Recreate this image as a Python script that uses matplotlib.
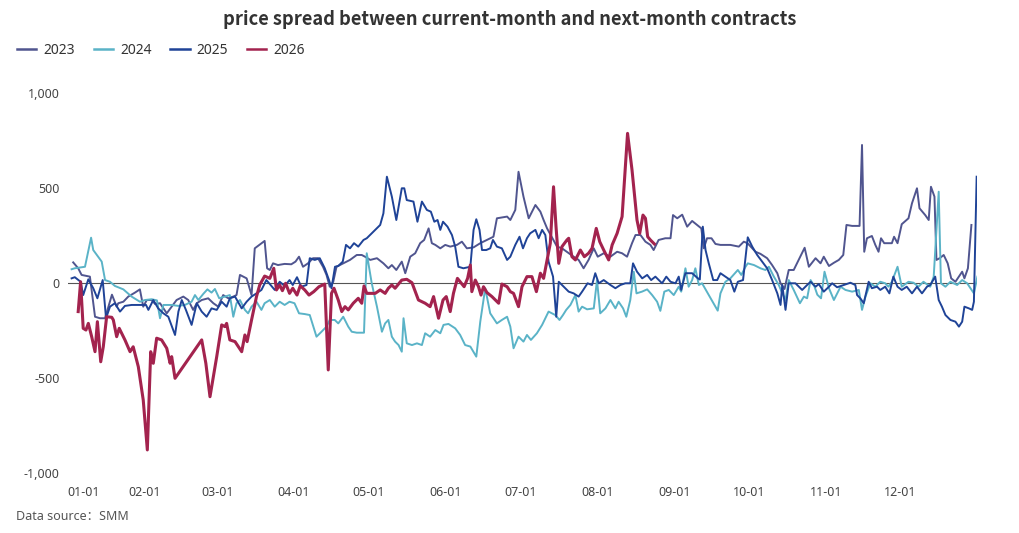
import numpy as np
import matplotlib.pyplot as plt
from matplotlib.ticker import FuncFormatter

# x values are day of year (0 = 01-01), negative = last days of December
s2023 = [(-5.4, 110), (-2.9, 79), (-1.2, 44), (3.0, 35), (5.6, -176), (8.1, -184), (10.7, -184),
         (14.2, -60), (16.6, -123), (17.4, -105), (20.0, -97), (22.5, -70), (25.9, -49), (28.4, -32),
         (30.1, -123), (31.7, -88), (33.6, -88), (34.9, -109), (36.8, -105), (39.4, -158), (41.3, -123),
         (43.2, -88), (45.8, -70), (47.7, -88), (49.6, -140), (51.0, -105), (52.9, -88), (55.4, -79),
         (57.4, -105), (59.3, -123), (61.3, -62), (63.4, -79), (65.4, -70), (66.7, -62), (68.1, 44),
         (70.8, 26), (72.8, -62), (74.1, 184), (78.1, 223), (79.1, 79), (80.2, 70), (81.5, 105),
         (83.5, 96), (86.2, 102), (88.9, 100), (90.6, 114), (92.0, 140), (93.6, 87), (95.6, 105),
         (97.6, 132), (99.6, 132), (101.6, 87), (103.0, 44), (104.3, -18), (105.7, 8), (107.0, 87),
         (109.7, 105), (112.4, 123), (115.1, 149), (117.1, 149), (118.4, 140), (120.5, 123), (123.2, 132),
         (125.8, 105), (127.8, 79), (129.2, 96), (131.0, 70), (133.2, 114), (134.6, 53), (136.6, 140),
         (138.6, 158), (140.6, 211), (142.2, 228), (144.0, 289), (145.3, 211), (146.7, 202), (148.7, 184),
         (150.7, 202), (152.7, 193), (155.4, 202), (157.4, 219), (159.4, 184), (162.1, 189), (164.8, 211),
         (167.5, 228), (170.1, 245), (171.5, 342), (175.6, 351), (176.9, 333), (178.9, 386), (180.2, 587),
         (182.2, 456), (184.3, 342), (187.0, 412), (189.0, 377), (190.3, 333), (191.7, 289), (195.7, 193),
         (197.7, 184), (202.4, 140), (204.4, 123), (206.4, 79), (208.4, 123), (210.5, 184), (212.1, 140),
         (214.5, 158), (217.2, 140), (219.9, 166), (221.9, 158), (223.9, 140), (225.9, 211), (227.3, 254),
         (229.3, 254), (231.3, 219), (233.3, 202), (234.6, 175), (236.6, 228), (239.3, 237), (241.4, 237),
         (242.4, 359), (244.1, 342), (246.1, 361), (248.1, 298), (250.1, 328), (252.1, 307), (253.8, 289),
         (254.8, 184), (256.1, 237), (257.9, 237), (259.5, 207), (261.5, 202), (265.5, 202), (268.9, 193),
         (270.9, 219), (272.4, 211), (274.3, 184), (275.6, 166), (277.6, 155), (280.3, 132), (282.3, 96),
         (284.4, 53), (285.7, 0), (287.3, -30), (289.0, 70), (291.0, 70), (293.0, 123), (295.4, 187),
         (297.1, 87), (299.8, 132), (301.8, 105), (303.1, 140), (305.2, 91), (307.2, 108), (309.2, 123),
         (311.0, 149), (312.3, 307), (314.6, 302), (317.6, 302), (318.6, 728), (319.5, 166), (320.6, 237),
         (322.6, 249), (324.0, 202), (325.3, 166), (326.3, 237), (327.6, 211), (330.7, 211), (331.6, 245),
         (333.0, 211), (334.7, 311), (337.4, 342), (338.8, 421), (340.8, 500), (341.8, 395), (344.1, 359),
         (345.5, 333), (346.4, 508), (347.8, 456), (348.6, 123), (349.9, 132), (351.5, 149), (353.1, 105),
         (354.5, 26), (356.2, 8), (357.6, 35), (358.9, 61), (359.8, 26), (361.2, 79), (362.6, 307)]

s2024 = [(-6.2, 74), (-4.6, 79), (0.5, 87), (3.6, 240), (4.7, 175), (9.0, 114), (10.7, 17), (13.2, 8),
         (15.7, -14), (20.0, -32), (24.2, -70), (28.4, -97), (31.0, -88), (33.6, -84), (35.6, -90),
         (36.8, -184), (38.1, -114), (41.3, -114), (43.9, -119), (46.4, -114), (49.0, -97), (50.3, -62),
         (51.6, -88), (53.5, -56), (55.1, -32), (56.7, -49), (58.0, -30), (59.7, -79), (62.0, -70),
         (64.0, -62), (65.4, -176), (66.7, -105), (68.1, -88), (70.1, -140), (71.4, -158), (72.8, -123),
         (74.8, -97), (76.8, -140), (78.1, -105), (80.2, -88), (82.2, -123), (84.2, -97), (86.2, -114),
         (88.2, -97), (90.2, -105), (92.0, -158), (94.3, -162), (96.3, -167), (99.0, -281), (101.0, -255),
         (103.0, -228), (104.3, -193), (106.3, -193), (107.7, -211), (109.7, -176), (111.7, -228),
         (113.1, -255), (115.1, -260), (118.0, -260), (119.1, 158), (121.1, 0), (123.2, -123), (125.2, -255),
         (126.5, -211), (127.8, -193), (129.2, -281), (130.5, -307), (131.9, -325), (133.2, -360),
         (133.9, -184), (135.2, -316), (137.3, -325), (139.3, -316), (141.3, -325), (142.6, -263),
         (144.6, -281), (146.7, -246), (148.7, -263), (150.0, -219), (152.0, -214), (154.7, -237),
         (156.7, -272), (158.7, -325), (160.8, -333), (163.2, -386), (164.8, -202), (166.8, -26),
         (168.8, -158), (171.5, -211), (173.5, -193), (175.6, -176), (176.9, -228), (178.2, -342),
         (180.2, -281), (182.2, -307), (183.6, -272), (185.2, -298), (187.6, -263), (189.7, -219),
         (191.0, -184), (192.3, -149), (195.0, -167), (196.7, -193), (198.1, -167), (199.4, -140),
         (201.1, -114), (203.1, -62), (204.4, -149), (205.8, -123), (207.8, -137), (210.5, -132),
         (211.8, 17), (213.1, -158), (215.2, -132), (217.2, -88), (219.2, -132), (220.5, -97), (222.3, -132),
         (223.6, -176), (225.2, -88), (226.6, 61), (227.7, -53), (229.9, -44), (232.0, -32), (234.0, -62),
         (236.0, -97), (237.3, -145), (238.9, -44), (240.7, -35), (242.7, -62), (244.7, -18), (245.7, -44),
         (247.4, 79), (248.7, -18), (250.1, 17), (251.4, 79), (252.8, -9), (254.1, 0), (256.8, -62),
         (260.4, -144), (261.5, -53), (263.5, 8), (265.5, 26), (268.5, 70), (269.9, 44), (271.6, 87),
         (272.5, 105), (275.0, 96), (277.6, 79), (279.6, 70), (281.0, 87), (283.0, 35), (285.0, -9),
         (286.4, -53), (287.7, -88), (289.0, 17), (291.0, -35), (293.5, -105), (295.1, -70), (296.4, -79),
         (297.8, 17), (299.4, -18), (300.5, -60), (302.0, -79), (303.4, 61), (305.2, -26), (307.2, -88),
         (309.9, -18), (311.9, -35), (314.6, -44), (317.3, -35), (318.6, -140), (320.0, -70), (322.0, 0),
         (324.0, -18), (326.0, 8), (328.0, 0), (329.3, -18), (330.7, 8), (333.0, 87), (334.7, -18),
         (337.4, 8), (339.4, 3), (341.4, -18), (343.4, 8), (346.1, -18), (347.5, 35), (349.5, 482),
         (350.4, 0), (352.2, -18), (354.2, 8), (356.9, -9), (358.9, 17), (360.9, 0), (363.6, -53),
         (365.0, 35)]

s2025 = [(-6.2, 26), (-4.6, 32), (-1.7, 8), (-0.4, -62), (2.2, 21), (4.7, -26), (6.8, -79), (9.5, 17),
         (11.2, -184), (13.2, -123), (15.7, -105), (18.3, -149), (20.8, -119), (24.2, -114), (27.6, -114),
         (31.4, -114), (32.3, -140), (34.2, -88), (36.1, -132), (38.1, -158), (40.0, -176), (42.6, -272),
         (43.9, -149), (45.2, -88), (46.8, -140), (49.0, -219), (51.0, -105), (52.9, -149), (54.8, -176),
         (56.7, -132), (58.7, -140), (60.7, -97), (62.7, -123), (64.0, -79), (66.1, -70), (68.8, -132),
         (70.8, -97), (72.8, -70), (74.8, -53), (76.8, -35), (78.8, 17), (80.2, -4), (82.2, -35), (84.2, 8),
         (86.2, -14), (88.2, 17), (89.5, -9), (91.2, 32), (92.9, -18), (95.0, -9), (96.3, 132), (98.3, 123),
         (100.3, 132), (102.3, 79), (104.0, 17), (105.0, -26), (106.4, 87), (107.7, 91), (109.5, 114),
         (110.8, 202), (112.4, 184), (114.0, 211), (115.7, 193), (117.8, 228), (119.1, 237), (121.8, 272),
         (124.5, 307), (125.8, 368), (127.2, 561), (129.2, 456), (131.0, 333), (133.2, 500), (134.2, 500),
         (135.2, 438), (137.9, 430), (139.5, 324), (141.3, 430), (143.3, 386), (144.9, 377), (146.3, 324),
         (147.6, 333), (148.7, 281), (149.8, 324), (151.6, 298), (153.4, 254), (154.7, 193), (156.0, 87),
         (158.0, 79), (160.8, 87), (162.1, 281), (163.2, 337), (164.5, 281), (165.5, 175), (167.2, 175),
         (168.8, 184), (169.9, 228), (171.5, 193), (173.5, 184), (175.6, 123), (176.9, 140), (178.9, 202),
         (180.6, 245), (182.0, 184), (183.6, 237), (184.9, 263), (187.0, 281), (188.3, 237), (189.7, 281),
         (191.0, 254), (192.3, 114), (194.1, 35), (195.4, -176), (196.4, 8), (198.4, -18), (200.4, -44),
         (202.4, -53), (204.4, -70), (205.8, -44), (208.0, 0), (209.8, -9), (211.1, 53), (212.5, 0),
         (214.5, 17), (217.2, -9), (219.2, -26), (221.2, -9), (223.2, 0), (225.2, 0), (226.3, 105),
         (227.9, 61), (230.0, 26), (232.0, 44), (233.6, 17), (235.3, 35), (238.0, 0), (239.7, 35), (241.4, 8),
         (243.4, 0), (244.7, 35), (245.7, -35), (247.4, 53), (250.1, 53), (252.4, 26), (253.2, 20),
         (254.4, 298), (255.5, 175), (256.8, 105), (258.6, 17), (260.2, 17), (261.5, 53), (263.5, 35),
         (265.5, 17), (267.1, -44), (268.5, 8), (270.6, 17), (272.5, 242), (274.3, 193), (276.3, 149),
         (278.3, 114), (280.3, 79), (282.3, 17), (284.4, -53), (285.7, -114), (286.4, -9), (287.7, -140),
         (289.0, 0), (291.7, 0), (294.4, -35), (296.4, -9), (297.8, 8), (299.8, -18), (301.1, -4),
         (303.1, -44), (305.2, -18), (306.5, 0), (308.5, -21), (311.2, -9), (313.9, 3), (315.9, -9),
         (316.6, -62), (317.9, -79), (319.3, -105), (321.3, 8), (322.6, -26), (324.7, -18), (326.0, -35),
         (328.0, -18), (329.7, -53), (331.3, 35), (333.0, -18), (334.7, -35), (336.7, -18), (338.8, -53),
         (340.8, -18), (342.8, -53), (344.8, -18), (346.1, -9), (348.1, 35), (349.5, -88), (350.8, -123),
         (352.2, -167), (354.2, -193), (356.2, -202), (357.6, -228), (358.9, -202), (359.8, -123),
         (361.6, -132), (362.9, -140), (363.6, -97), (364.7, 561)]

s2026 = [(-2.9, -149), (-1.7, 8), (-0.4, -237), (1.0, -246), (2.2, -211), (3.9, -281), (5.6, -360),
         (6.8, -202), (8.5, -413), (9.8, -334), (11.5, -176), (14.1, -179), (14.9, -193), (16.6, -281),
         (17.9, -237), (20.8, -298), (23.4, -360), (25.0, -334), (27.6, -439), (30.1, -614), (31.9, -877),
         (33.2, -360), (34.2, -421), (35.5, -289), (37.4, -298), (39.4, -342), (40.7, -421), (41.3, -386),
         (42.6, -500), (52.9, -298), (54.5, -421), (56.1, -597), (58.7, -386), (60.7, -219), (62.0, -228),
         (62.7, -211), (64.0, -298), (66.1, -307), (68.8, -360), (70.1, -272), (71.0, -307), (72.8, -193),
         (74.8, -70), (76.1, -9), (78.1, 38), (80.2, 26), (81.8, 79), (82.9, -35), (84.2, -9), (85.3, -39),
         (86.6, 0), (88.2, -53), (89.5, -26), (91.2, -62), (92.5, -13), (94.3, -35), (96.0, -62), (97.9, -44),
         (100.0, -18), (102.3, -4), (103.7, -456), (105.0, -53), (106.0, -26), (107.7, -88), (109.1, -149),
         (110.4, -123), (111.7, -140), (113.7, -105), (115.7, -79), (117.1, -105), (118.0, -14), (119.1, -53),
         (120.5, -53), (122.5, -53), (124.5, -35), (126.5, -53), (127.8, -26), (129.2, -9), (130.5, -26),
         (133.2, 17), (135.2, 21), (137.3, 3), (139.9, -88), (142.6, -105), (144.6, -123), (146.0, -70),
         (148.0, -184), (149.8, -88), (151.1, -70), (152.7, -149), (154.0, -53), (155.6, 26), (156.7, 8),
         (158.3, -18), (159.7, 26), (160.8, 96), (161.4, -44), (162.8, 17), (164.1, -18), (165.1, -62),
         (166.1, -18), (167.5, -49), (169.5, -70), (172.2, -105), (173.5, -4), (175.6, -18), (176.9, -44),
         (178.2, -53), (180.2, -123), (181.6, -18), (183.6, 35), (185.6, 35), (187.4, -44), (189.0, 53),
         (190.3, 26), (191.7, 123), (193.0, 211), (194.3, 508), (195.3, 298), (196.4, 105), (197.7, 193),
         (199.7, 228), (200.4, 237), (201.7, 140), (203.1, 123), (205.1, 175), (206.7, 140), (208.4, 158),
         (209.8, 184), (211.5, 289), (212.9, 219), (214.5, 175), (216.5, 123), (217.9, 202), (219.9, 263),
         (221.9, 351), (224.1, 789), (225.9, 596), (227.9, 333), (229.0, 263), (230.3, 359), (231.3, 342),
         (232.2, 245), (233.3, 228), (234.9, 207)]

years = ['2023', '2024', '2025', '2026']
colors = ['#50558f', '#5ab3c7', '#1f4397', '#a3234e']
widths = [1.4, 1.4, 1.4, 2.2]

month_days = [0, 31, 59, 90, 120, 151, 181, 212, 243, 273, 304, 334]
month_labels = ['01-01', '02-01', '03-01', '04-01', '05-01', '06-01',
                '07-01', '08-01', '09-01', '10-01', '11-01', '12-01']

# category axis in the original: months do not get equal widths
knot_days = [-8] + month_days + [365]
knot_pos = [68, 84, 145, 217.5, 294, 369, 446, 520.5, 597.5, 674.5, 749, 826, 900, 977.4]


def fwd(d):
    return np.interp(d, knot_days, knot_pos)


def inv(p):
    return np.interp(p, knot_pos, knot_days)


plt.rcParams['font.family'] = ['Noto Sans', 'Noto Sans CJK SC', 'DejaVu Sans']

fig = plt.figure(figsize=(10.2, 5.33), dpi=100)
ax = fig.add_axes([68 / 1020, 0.112, (977.4 - 68) / 1020, 0.713])
ax.set_xscale('function', functions=(fwd, inv))

for name, data, c, lw in zip(years, [s2023, s2024, s2025, s2026], colors, widths):
    x, y = zip(*data)
    ax.plot(x, y, color=c, lw=lw, label=name, solid_joinstyle='round')

ax.axhline(0, color='#555555', lw=0.8, zorder=0)

ax.set_xlim(-8, 365)
ax.set_ylim(-1000, 1000)
ax.set_xticks(month_days)
ax.set_xticklabels(month_labels)
ax.set_yticks([-1000, -500, 0, 500, 1000])
ax.yaxis.set_major_formatter(FuncFormatter(lambda v, p: f'{int(v):,}'))
ax.tick_params(axis='both', length=0, labelsize=9, labelcolor='#444444')
ax.tick_params(axis='y', pad=6)
ax.tick_params(axis='x', pad=9)
for s in ax.spines.values():
    s.set_visible(False)

fig.text(0.5, 0.963, 'price spread between current-month and next-month contracts',
         ha='center', va='center', fontsize=13.2, fontweight='bold', color='#333333',
         family=['Noto Sans CJK SC', 'DejaVu Sans'])

leg = fig.legend(loc='center left', bbox_to_anchor=(17 / 1020, 1 - 50 / 533), ncol=4,
                 frameon=False, fontsize=10, handlelength=1.4, handletextpad=0.5,
                 columnspacing=1.35, borderpad=0, borderaxespad=0)
for t in leg.get_texts():
    t.set_color('#333333')
for h in leg.legend_handles:
    h.set_linewidth(1.8)

fig.text(16 / 1020, 1 - 517 / 533, 'Data source：SMM', ha='left', va='center',
         fontsize=9, color='#555555')

fig.savefig('out.png', dpi=100)
